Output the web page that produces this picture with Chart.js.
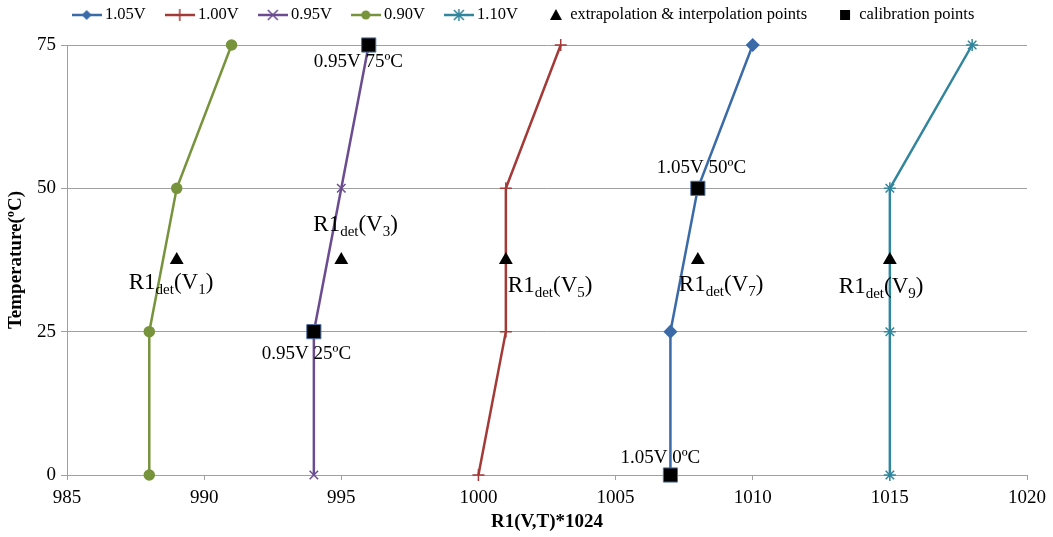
<!DOCTYPE html>
<html>
<head>
<meta charset="utf-8">
<script src="https://cdn.jsdelivr.net/npm/chart.js@4"></script>
<style>
  html, body { margin: 0; padding: 0; background: #fff; }
  #wrap { width: 1053px; height: 537px; }
</style>
</head>
<body>
<div id="wrap"><canvas id="myChart"></canvas></div>
<script>
// data
var temps = [0, 25, 50, 75];
var r1_105 = [1007, 1007, 1008, 1010];
var r1_100 = [1000, 1001, 1001, 1003];
var r1_095 = [994, 994, 995, 996];
var r1_090 = [988, 988, 989, 991];
var r1_110 = [1015, 1015, 1015, 1018];
var extrapX = [989, 995, 1001, 1008, 1015];
var extrapY = [37.5, 37.5, 37.5, 37.5, 37.5];
var extrapSub = ['1', '3', '5', '7', '9'];
var calibX = [996, 994, 1008, 1007];
var calibY = [75, 25, 50, 0];
var calibText = ['0.95V 75ºC', '0.95V 25ºC', '1.05V 50ºC', '1.05V 0ºC'];
var seriesNames = ['1.05V', '1.00V', '0.95V', '0.90V', '1.10V', 'extrapolation & interpolation points', 'calibration points'];

var FONT = "'Liberation Serif', 'Times New Roman', serif";
var colors = ['#3B6AA8', '#A33A37', '#6B4C91', '#77933C', '#31859C'];
var styles = ['rectRot', 'cross', 'crossRot', 'circle', 'star'];
var radii = [6, 6, 6, 5, 6];

function pts(xs, ys) {
  return xs.map(function(x, i) { return {x: x, y: ys[i]}; });
}

// legend icons: line with marker
function lineIcon(color, style) {
  var c = document.createElement('canvas');
  c.width = 30; c.height = 14;
  var g = c.getContext('2d');
  g.strokeStyle = color; g.fillStyle = color; g.lineWidth = 2.5;
  g.beginPath(); g.moveTo(0, 7); g.lineTo(30, 7); g.stroke();
  g.lineWidth = 1.5;
  var x = 15, y = 7;
  if (style === 'rectRot') {
    g.beginPath(); g.moveTo(x, y - 5); g.lineTo(x + 5, y); g.lineTo(x, y + 5); g.lineTo(x - 5, y); g.closePath(); g.fill();
  } else if (style === 'cross') {
    g.beginPath(); g.moveTo(x, y - 6); g.lineTo(x, y + 6); g.stroke();
  } else if (style === 'crossRot') {
    g.beginPath(); g.moveTo(x - 5, y - 5); g.lineTo(x + 5, y + 5); g.moveTo(x + 5, y - 5); g.lineTo(x - 5, y + 5); g.stroke();
  } else if (style === 'circle') {
    g.beginPath(); g.arc(x, y, 4.5, 0, Math.PI * 2); g.fill();
  } else if (style === 'star') {
    g.beginPath(); g.moveTo(x - 5, y - 5); g.lineTo(x + 5, y + 5); g.moveTo(x + 5, y - 5); g.lineTo(x - 5, y + 5);
    g.moveTo(x, y - 6); g.lineTo(x, y + 6); g.stroke();
  }
  return c;
}
function shapeIcon(kind) {
  var c = document.createElement('canvas');
  c.width = 30; c.height = 14;
  var g = c.getContext('2d');
  g.fillStyle = '#000';
  if (kind === 'tri') {
    g.beginPath(); g.moveTo(19, 1); g.lineTo(25, 12); g.lineTo(13, 12); g.closePath(); g.fill();
  } else {
    g.fillRect(14, 2, 10, 10);
  }
  return c;
}
var icons = colors.map(function(c, i) { return lineIcon(c, styles[i]); });
icons.push(shapeIcon('tri'));
icons.push(shapeIcon('sq'));

var lineSeries = [r1_105, r1_100, r1_095, r1_090, r1_110];
var datasets = lineSeries.map(function(xs, i) {
  return {
    label: seriesNames[i],
    data: pts(xs, temps),
    borderColor: colors[i],
    backgroundColor: colors[i],
    borderWidth: 2.5,
    pointStyle: styles[i],
    pointRadius: radii[i],
    pointBorderWidth: 1.5,
    showLine: true,
    tension: 0,
    clip: false
  };
});
datasets.push({
  label: seriesNames[5],
  data: pts(extrapX, extrapY),
  showLine: false,
  pointStyle: 'triangle',
  pointRadius: 8,
  backgroundColor: '#000',
  borderColor: '#000',
  borderWidth: 0,
  clip: false,
  order: -1
});
datasets.push({
  label: seriesNames[6],
  data: pts(calibX, calibY),
  showLine: false,
  pointStyle: 'rect',
  pointRadius: 10,
  backgroundColor: '#000',
  borderColor: '#4F6F9F',
  borderWidth: 1,
  clip: false,
  order: -2
});

// text offsets (pixels from the point)
var detOffsets = [[-48, 29], [-28, -29], [2, 32], [-19, 31], [-51, 33]];
var calibOffsets = [[-55, 22], [-52, 27], [-41, -15], [-50, -12]];

var labelsPlugin = {
  id: 'labelsPlugin',
  afterDatasetsDraw: function(chart) {
    var ctx = chart.ctx;
    var xs = chart.scales.x, ys = chart.scales.y;
    ctx.save();
    ctx.fillStyle = '#000';
    ctx.textBaseline = 'alphabetic';
    ctx.textAlign = 'left';
    extrapX.forEach(function(v, i) {
      var x = xs.getPixelForValue(v) + detOffsets[i][0];
      var y = ys.getPixelForValue(extrapY[i]) + detOffsets[i][1];
      var parts = [['R1', 23, 0], ['det', 15, 5], ['(V', 23, 0], [extrapSub[i], 15, 5], [')', 23, 0]];
      parts.forEach(function(p) {
        ctx.font = p[1] + 'px ' + FONT;
        ctx.fillText(p[0], x, y + p[2]);
        x += ctx.measureText(p[0]).width;
      });
    });
    ctx.font = '19px ' + FONT;
    calibX.forEach(function(v, i) {
      var x = xs.getPixelForValue(v) + calibOffsets[i][0];
      var y = ys.getPixelForValue(calibY[i]) + calibOffsets[i][1];
      ctx.fillText(calibText[i], x, y);
    });
    ctx.restore();
  }
};

var LEG_PAD = 24;
var legendFit = {
  id: 'legendFit',
  beforeInit: function(chart) {
    var fit = chart.legend.fit;
    chart.legend.fit = function() {
      fit.bind(chart.legend)();
      this.height = 45;
    };
  },
  afterLayout: function(chart) {
    var lg = chart.legend;
    lg.top = 6.75 - LEG_PAD;
    lg.bottom = lg.top + lg.height;
    lg.left += 12;
    lg.right += 12;
  }
};

var ctx = document.getElementById('myChart').getContext('2d');
var myChart = new Chart(ctx, {
  type: 'scatter',
  data: { datasets: datasets },
  plugins: [labelsPlugin, legendFit],
  options: {
    responsive: true,
    maintainAspectRatio: false,
    animation: false,
    layout: { padding: { left: 0, right: 26, top: 0, bottom: 0 } },
    plugins: {
      tooltip: { enabled: false },
      legend: {
        position: 'top',
        labels: {
          usePointStyle: true,
          pointStyleWidth: 20,
          padding: LEG_PAD,
          color: '#000',
          font: { family: FONT, size: 16.5 },
          sort: function(a, b) { return a.datasetIndex - b.datasetIndex; },
          generateLabels: function(chart) {
            var items = Chart.defaults.plugins.legend.labels.generateLabels(chart);
            items.forEach(function(it) {
              it.pointStyle = icons[it.datasetIndex];
            });
            return items;
          }
        }
      }
    },
    scales: {
      x: {
        type: 'linear',
        min: 985,
        max: 1020,
        ticks: { stepSize: 5, color: '#000', font: { family: FONT, size: 19 }, padding: 7, maxRotation: 0,
          callback: function(v) { return String(v); } },
        grid: { drawOnChartArea: false, color: '#A0A0A0', tickLength: 5 },
        border: { color: '#A0A0A0', width: 1 },
        title: { display: true, text: 'R1(V,T)*1024', color: '#000', font: { family: FONT, size: 19, weight: 'bold' }, padding: { top: 4 } },
        afterFit: function(s) { s.height = 62; }
      },
      y: {
        type: 'linear',
        min: 0,
        max: 75,
        ticks: { stepSize: 25, color: '#000', font: { family: FONT, size: 19 }, padding: 5,
          callback: function(v) { return String(v); } },
        grid: { color: '#A0A0A0', tickLength: 6 },
        border: { color: '#A0A0A0', width: 1 },
        title: { display: true, text: 'Temperature(ºC)', color: '#000', font: { family: FONT, size: 19, weight: 'bold' }, padding: { top: 5, bottom: 0 } },
        afterFit: function(s) { s.width = 67; }
      }
    }
  }
});
</script>
</body>
</html>
